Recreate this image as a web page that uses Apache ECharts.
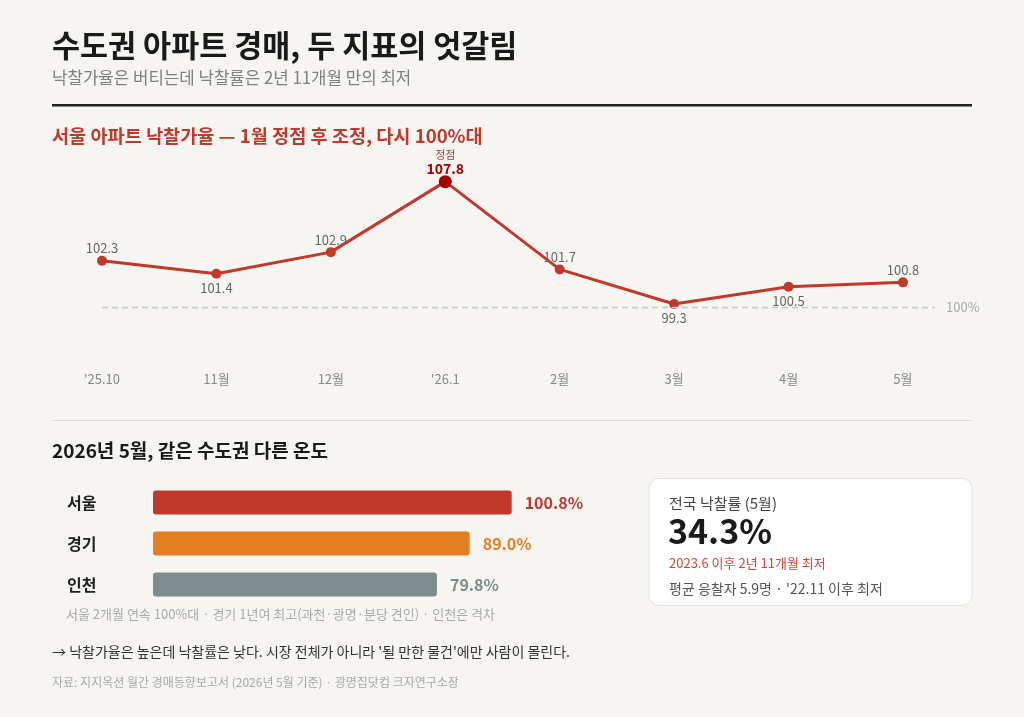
<!DOCTYPE html>
<html>
<head>
<meta charset="utf-8">
<script src="https://cdn.jsdelivr.net/npm/echarts@6/dist/echarts.min.js"></script>
<style>
  html, body { margin: 0; padding: 0; background: #f7f5f2; }
  #chart { width: 1024px; height: 717px; }
</style>
</head>
<body>
<div id="chart"></div>
<script>
// 서울 아파트 낙찰가율 (월별)
const months = ["'25.10", '11월', '12월', "'26.1", '2월', '3월', '4월', '5월']
const seoulRate = [102.3, 101.4, 102.9, 107.8, 101.7, 99.3, 100.5, 100.8]
const peakIndex = 3
const refLine = 99.1          // where the dashed "100%" guide sits in the picture
const refLabel = '100%'

// 2026년 5월 지역별 낙찰가율
const regions = ['서울', '경기', '인천']
const regionRate = [100.8, 89.0, 79.8]

// 전국 카드
const nationRate = 34.3
const cardTitle = '전국 낙찰률 (5월)'
const cardNote1 = '2023.6 이후 2년 11개월 최저'
const cardNote2 = "평균 응찰자 5.9명 · '22.11 이후 최저"

const FONT = '"Noto Sans CJK KR", "Noto Sans", sans-serif'
const RED = '#c0392b'
const regionColors = [RED, '#e67e22', '#7f8c8d']
const belowLabels = [1, 5, 6]

let chart = echarts.init(document.getElementById('chart'), null, { renderer: 'canvas' })

function txt(x, y, text, size, color, weight) {
    return {
        type: 'text', x: x, y: y, silent: true,
        style: {
            text: text, fill: color, fontSize: size, fontWeight: weight || 'normal',
            fontFamily: FONT, verticalAlign: 'middle', align: 'left'
        }
    }
}

const lineData = seoulRate.map(function (v, i) {
    let below = belowLabels.indexOf(i) >= 0
    let item = {
        value: [i, v],
        label: {
            show: true,
            position: below ? 'bottom' : 'top',
            distance: below ? 3 : 1,
            color: '#666',
            fontSize: 13,
            fontFamily: FONT
        }
    }
    if (i === peakIndex) {
        item.symbolSize = 13
        item.itemStyle = { color: '#a30000' }
        item.label = {
            show: true,
            position: 'top',
            distance: -1,
            formatter: '{a|정점}\n{b|' + v.toFixed(1) + '}',
            rich: {
                a: { fontSize: 11, color: RED, fontFamily: FONT, lineHeight: 12 },
                b: { fontSize: 14, fontWeight: 'bold', color: '#a30000', fontFamily: FONT, lineHeight: 15 }
            }
        }
    }
    return item
})

const option = {
    backgroundColor: '#f7f5f2',
    animation: false,
    textStyle: { fontFamily: FONT },
    grid: [
        { left: 102, right: 89, top: 150, bottom: 344, containLabel: false },
        { left: 153, right: 444, top: 482, height: 123, containLabel: false }
    ],
    xAxis: [{
        gridIndex: 0,
        type: 'value',
        min: 0,
        max: 7.28,
        interval: 1,
        splitLine: { show: false },
        axisLine: { show: false },
        axisTick: { show: false },
        axisLabel: {
            margin: 0,
            color: '#888',
            fontSize: 13,
            fontFamily: FONT,
            showMaxLabel: false,
            formatter: function (v) { return months[v] || '' }
        }
    }, {
        gridIndex: 1,
        type: 'value',
        min: 0,
        max: 120,
        show: false
    }],
    yAxis: [{
        gridIndex: 0,
        type: 'value',
        min: 94.5,
        max: 110,
        show: false
    }, {
        gridIndex: 1,
        type: 'category',
        inverse: true,
        data: regions,
        axisLine: { show: false },
        axisTick: { show: false },
        axisLabel: {
            align: 'left',
            margin: 86,
            color: '#222',
            fontSize: 16,
            fontWeight: 'bold',
            fontFamily: FONT
        }
    }],
    series: [{
        type: 'line',
        xAxisIndex: 0,
        yAxisIndex: 0,
        data: lineData,
        symbol: 'circle',
        symbolSize: 10,
        itemStyle: { color: RED },
        lineStyle: { color: RED, width: 3 },
        z: 3,
        markLine: {
            silent: true,
            symbol: 'none',
            lineStyle: { color: '#c8c8c8', type: [6, 4], width: 1.3 },
            label: {
                position: 'end',
                distance: 11,
                formatter: refLabel,
                color: '#aaa',
                fontSize: 13,
                fontFamily: FONT
            },
            data: [{ yAxis: refLine }]
        }
    }, {
        type: 'bar',
        xAxisIndex: 1,
        yAxisIndex: 1,
        barWidth: 24,
        data: regionRate.map(function (v, i) {
            return {
                value: v,
                itemStyle: { color: regionColors[i], borderRadius: 3 },
                label: { color: regionColors[i] }
            }
        }),
        label: {
            show: true,
            position: 'right',
            distance: 13,
            fontSize: 16,
            fontWeight: 'bold',
            fontFamily: FONT,
            formatter: function (p) { return p.value.toFixed(1) + '%' }
        }
    }],
    graphic: [
        txt(52, 45, '수도권 아파트 경매, 두 지표의 엇갈림', 30.5, '#1a1a1a', 'bold'),
        txt(52, 78, '낙찰가율은 버티는데 낙찰률은 2년 11개월 만의 최저', 16.8, '#808080'),
        { type: 'rect', silent: true, shape: { x: 52, y: 104, width: 920, height: 2.5 }, style: { fill: '#222' } },
        txt(52, 136, '서울 아파트 낙찰가율 — 1월 정점 후 조정, 다시 100%대', 18.6, RED, 'bold'),
        { type: 'rect', silent: true, shape: { x: 52, y: 420, width: 920, height: 1 }, style: { fill: '#dedbd6' } },
        txt(52, 451, '2026년 5월, 같은 수도권 다른 온도', 19, '#1a1a1a', 'bold'),
        txt(66, 614, '서울 2개월 연속 100%대 · 경기 1년여 최고(과천·광명·분당 견인) · 인천은 격차', 13, '#aaa'),
        txt(52, 652, "→ 낙찰가율은 높은데 낙찰률은 낮다. 시장 전체가 아니라 '될 만한 물건'에만 사람이 몰린다.", 14, '#333'),
        txt(52, 682, '자료: 지지옥션 월간 경매동향보고서 (2026년 5월 기준) · 광명집닷컴 크자연구소장', 12, '#aaa'),
        {
            type: 'rect', silent: true,
            shape: { x: 649, y: 478.5, width: 323, height: 127, r: 10 },
            style: { fill: '#ffffff', stroke: '#e6e3de', lineWidth: 1 }
        },
        txt(669, 503, cardTitle, 15, '#444'),
        txt(668, 531, nationRate.toFixed(1) + '%', 34, '#1a1a1a', 'bold'),
        txt(669, 563, cardNote1, 13, '#d9453a'),
        txt(669, 589, cardNote2, 14, '#555')
    ]
}

chart.setOption(option)
</script>
</body>
</html>
